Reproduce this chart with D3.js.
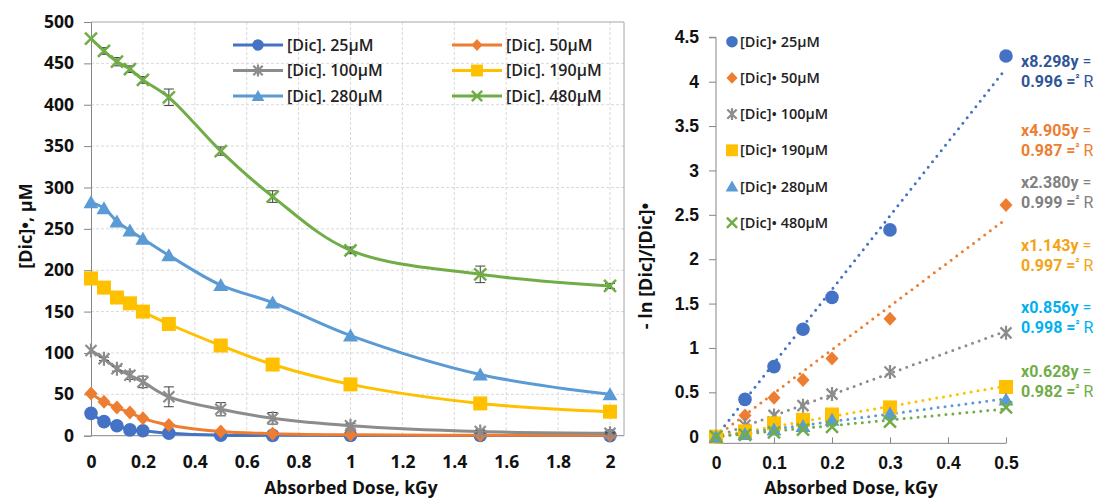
<!DOCTYPE html>
<html><head><meta charset="utf-8">
<script src="https://cdn.jsdelivr.net/npm/d3@7"></script>
<style>body{margin:0;background:#fff}svg{display:block;font-family:"Open Sans",sans-serif}</style>
</head><body><svg id="c" width="1101" height="500"></svg>
<script>
// ---- Left chart data ----
const doseL = [0,0.05,0.1,0.15,0.2,0.3,0.5,0.7,1,1.5,2];
const c25  = [27,17,12,7,6,3,0.6,0.4,0.3,0.2,0.1];
const c50  = [51,41,34,28,21,13,5,2.5,1,0.6,0.4];
const c100 = [103,93,81,73,65,47,32,21,12,5,3];
const c190 = [190,179,167,160,150,135,109,86,62,39,29];
const c280 = [282,275,259,248,238,218,182,161,121,74,50];
const c480 = [480,465,452,443,430,409,344,289,224,195,181];
const err100 = [0,2,3,5,7,12,8,7,3,2,1];
const err480 = [0,4,5,4,4,10,5,7,4,10,3];
const legendL = ["[Dic]. 25μM","[Dic]. 50μM","[Dic]. 100μM","[Dic]. 190μM","[Dic]. 280μM","[Dic]. 480μM"];
const xTicksL = [0,0.2,0.4,0.6,0.8,1,1.2,1.4,1.6,1.8,2];
const yTicksL = [0,50,100,150,200,250,300,350,400,450,500];

// ---- Right chart data ----
const doseR = [0,0.05,0.1,0.15,0.2,0.3,0.5];
const r25  = [0,0.42,0.79,1.21,1.57,2.33,4.29];
const r50  = [0,0.24,0.44,0.64,0.88,1.33,2.61];
const r100 = [0,0.13,0.24,0.35,0.48,0.73,1.17];
const r190 = [0,0.06,0.15,0.19,0.25,0.33,0.56];
const r280 = [0,0.03,0.08,0.12,0.19,0.26,0.42];
const r480 = [0,0.02,0.05,0.08,0.11,0.17,0.33];
const slopes = ["8.298","4.905","2.380","1.143","0.856","0.628"];
const r2s = ["0.996","0.987","0.999","0.997","0.998","0.982"];
const legendR = ["[Dic]• 25μM","[Dic]• 50μM","[Dic]• 100μM","[Dic]• 190μM","[Dic]• 280μM","[Dic]• 480μM"];
const xTicksR = [0,0.1,0.2,0.3,0.4,0.5];
const yTicksR = [0,0.5,1,1.5,2,2.5,3,3.5,4,4.5];

// ---- styles ----
const colors = ["#4472C4","#ED7D31","#8C8C8C","#FFC000","#5B9BD5","#70AD47"];
const trendColors = ["#4472C4","#ED7D31","#8C8C8C","#FFC000","#5B9BD5","#70AD47"];
const annColors = ["#2F5597","#ED7D31","#808080","#F5A316","#00B0F0","#70AD47"];
const shapes = ["circle","diamond","star","square","triangle","x"];
const annY = [67,136,188,251,313,377];

const svg = d3.select("#c");
const tickCol = "#111";

function marker(g, shape, cx, cy, color, s) {
  s = s || 1;
  if (shape === "circle") g.append("circle").attr("cx",cx).attr("cy",cy).attr("r",6.8*s).attr("fill",color);
  else if (shape === "diamond") g.append("path").attr("d",`M${cx},${cy-7*s}L${cx+6.5*s},${cy}L${cx},${cy+7*s}L${cx-6.5*s},${cy}Z`).attr("fill",color);
  else if (shape === "square") g.append("rect").attr("x",cx-7*s).attr("y",cy-7*s).attr("width",14*s).attr("height",14*s).attr("fill",color);
  else if (shape === "triangle") g.append("path").attr("d",`M${cx},${cy-7*s}L${cx+7.5*s},${cy+6*s}L${cx-7.5*s},${cy+6*s}Z`).attr("fill",color);
  else if (shape === "x") g.append("path").attr("d",`M${cx-6*s},${cy-6*s}L${cx+6*s},${cy+6*s}M${cx+6*s},${cy-6*s}L${cx-6*s},${cy+6*s}`).attr("stroke",color).attr("stroke-width",2.5).attr("fill","none");
  else if (shape === "star") g.append("path").attr("d",`M${cx-5.5*s},${cy-5.5*s}L${cx+5.5*s},${cy+5.5*s}M${cx+5.5*s},${cy-5.5*s}L${cx-5.5*s},${cy+5.5*s}M${cx},${cy-7*s}L${cx},${cy+7*s}`).attr("stroke",color).attr("stroke-width",2.2).attr("fill","none");
}

// ================= LEFT CHART =================
const xL = d3.scaleLinear().domain([0,2]).range([91,610]);
const yL = d3.scaleLinear().domain([0,500]).range([435.7,22]);
const L = svg.append("g");
// gridlines
L.append("g").selectAll("line").data(yTicksL.filter(d=>d>0&&d<500)).join("line")
  .attr("x1",91).attr("x2",624).attr("y1",d=>yL(d)).attr("y2",d=>yL(d))
  .attr("stroke","#d9d9d9").attr("stroke-dasharray","3,2");
L.append("g").selectAll("line").data(xTicksL.filter(d=>d>0)).join("line")
  .attr("x1",d=>xL(d)).attr("x2",d=>xL(d)).attr("y1",22).attr("y2",435.7)
  .attr("stroke","#d9d9d9").attr("stroke-dasharray","3,2");
// border
L.append("path").attr("d",`M91,22H624V435.7`).attr("stroke","#a6a6a6").attr("fill","none");
// axes
const yAxL = L.append("g").attr("transform","translate(91,0)")
  .call(d3.axisLeft(yL).tickValues(yTicksL).tickSize(7).tickPadding(10).tickFormat(d3.format("d")));
const xAxL = L.append("g").attr("transform","translate(0,435.7)")
  .call(d3.axisBottom(xL).tickValues(xTicksL).tickSize(0).tickPadding(20).tickFormat(d=>String(d)));
[yAxL,xAxL].forEach(a=>{
  a.select(".domain").attr("stroke","#868686");
  a.selectAll(".tick line").attr("stroke","#868686");
  a.selectAll("text").attr("font-size",17.5).attr("font-weight",700).attr("fill",tickCol).attr("font-family","Open Sans");
});
xAxL.select(".domain").attr("d","M91,0H624");

const seriesL = [c25,c50,c100,c190,c280,c480];
const errL = [null,null,err100,null,null,err480];
const lineL = d3.line().x((d,i)=>xL(doseL[i])).y(d=>yL(d)).curve(d3.curveCatmullRom.alpha(0.5));
seriesL.forEach((vals,k)=>{
  const g = L.append("g");
  g.append("path").attr("d",lineL(vals)).attr("fill","none").attr("stroke",colors[k]).attr("stroke-width",3);
  if (errL[k]) {
    errL[k].forEach((e,i)=>{
      if (!e) return;
      const x = xL(doseL[i]), y1 = yL(vals[i]-e), y2 = yL(vals[i]+e);
      g.append("path").attr("d",`M${x},${y1}V${y2}M${x-5},${y1}H${x+5}M${x-5},${y2}H${x+5}`)
        .attr("stroke","#404040").attr("stroke-width",1).attr("fill","none");
    });
  }
  vals.forEach((v,i)=>marker(g,shapes[k],xL(doseL[i]),yL(v),colors[k]));
});
// legend left
legendL.forEach((t,k)=>{
  const col = k%2, row = Math.floor(k/2);
  const x0 = col===0 ? 233 : 452, y0 = 45 + row*25.5;
  const g = L.append("g");
  g.append("line").attr("x1",x0).attr("x2",x0+50).attr("y1",y0).attr("y2",y0).attr("stroke",colors[k]).attr("stroke-width",3);
  marker(g,shapes[k],x0+25,y0,colors[k],0.85);
  g.append("text").attr("x",x0+54).attr("y",y0+5.5).text(t).attr("font-size",16).attr("font-weight",600).attr("fill","#222");
});
L.append("text").attr("transform","translate(32,226) rotate(-90)").attr("text-anchor","middle")
  .attr("font-size",18).attr("font-weight",700).attr("fill",tickCol).text("[Dic]•, μM");
L.append("text").attr("x",351).attr("y",494).attr("text-anchor","middle")
  .attr("font-size",17.5).attr("font-weight",700).attr("fill",tickCol).text("Absorbed Dose, kGy");

// ================= RIGHT CHART =================
const xR = d3.scaleLinear().domain([0,0.5]).range([716,1006]);
const yR = d3.scaleLinear().domain([0,4.5]).range([436.7,37.3]);
const R = svg.append("g");
const yAxR = R.append("g").attr("transform","translate(716,0)")
  .call(d3.axisLeft(yR).tickValues(yTicksR).tickSize(7).tickPadding(10).tickFormat(d=>String(d)));
yAxR.select(".domain").attr("d",`M-7,${yR(4.5)}H0V${yR(-0.075)}`);
const xAxR = R.append("g").attr("transform",`translate(0,${yR(-0.075)})`)
  .call(d3.axisBottom(xR).tickValues(xTicksR).tickSize(-6).tickPadding(13).tickFormat(d=>String(d)));
xAxR.select(".domain").attr("d","M716,0H1006");
[yAxR,xAxR].forEach(a=>{
  a.select(".domain").attr("stroke","#868686");
  a.selectAll(".tick line").attr("stroke","#868686");
  a.selectAll("text").attr("font-size",17.5).attr("font-weight",700).attr("fill",tickCol);
});

const seriesR = [r25,r50,r100,r190,r280,r480];
// trendlines (drawn through origin with fitted slope)
seriesR.forEach((vals,k)=>{
  const s = +slopes[k];
  R.append("line").attr("x1",xR(0)).attr("y1",yR(0)).attr("x2",xR(0.5)).attr("y2",yR(s*0.5))
    .attr("stroke",trendColors[k]).attr("stroke-width",3).attr("stroke-linecap","round")
    .attr("stroke-dasharray","0 7");
});
seriesR.forEach((vals,k)=>{
  const g = R.append("g");
  vals.forEach((v,i)=>marker(g,shapes[k],xR(doseR[i]),yR(v),colors[k]));
});
// legend right
legendR.forEach((t,k)=>{
  const y0 = 41.7 + k*36.2;
  const g = R.append("g");
  marker(g,shapes[k],732,y0,colors[k],0.85);
  g.append("text").attr("x",740).attr("y",y0+5).text(t).attr("font-size",14.5).attr("font-weight",600).attr("fill","#222");
});
// annotations
slopes.forEach((s,k)=>{
  const y = annY[k];
  const t1 = R.append("text").attr("x",1021).attr("y",y).attr("fill",annColors[k]).attr("font-size",16).attr("font-family","Roboto");
  t1.append("tspan").attr("font-weight",700).text("x"+s+"y");
  t1.append("tspan").attr("font-weight",400).text(" =");
  const t2 = R.append("text").attr("x",1021).attr("y",y+20).attr("fill",annColors[k]).attr("font-size",16).attr("font-family","Roboto");
  t2.append("tspan").attr("font-weight",700).text(r2s[k]+" =");
  t2.append("tspan").attr("font-weight",700).attr("font-size",11).attr("dy",-5).text("²");
  t2.append("tspan").attr("font-weight",400).attr("dy",5).text(" R");
});
R.append("text").attr("transform","translate(652,266) rotate(-90)").attr("text-anchor","middle")
  .attr("font-size",18).attr("font-weight",700).attr("fill",tickCol).text("- ln [Dic]/[Dic]•");
R.append("text").attr("x",851).attr("y",494).attr("text-anchor","middle")
  .attr("font-size",17.5).attr("font-weight",700).attr("fill",tickCol).text("Absorbed Dose, kGy");
</script></body></html>
